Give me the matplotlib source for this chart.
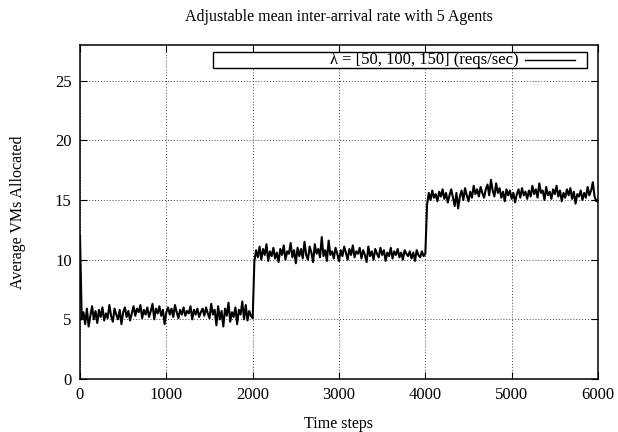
import matplotlib.pyplot as plt
import numpy as np
from matplotlib.patches import Rectangle

plt.rcParams['font.family'] = ['Liberation Serif', 'DejaVu Serif']

# values, one every 20 time steps
start = [12.0]
seg1 = [5.0, 5.6, 4.6, 5.9, 4.4, 5.3, 6.1, 5.0, 5.7, 4.7,
        5.8, 5.2, 6.0, 4.9, 5.5, 5.1, 6.2, 5.3, 4.8, 5.9,
        5.4, 5.0, 5.8, 4.6, 5.6, 6.0, 5.2, 5.7, 4.9, 5.5,
        6.1, 5.3, 5.9, 5.6, 6.2, 5.1, 5.8, 5.4, 6.0, 5.2,
        5.7, 6.3, 5.0, 5.9, 5.5, 6.1, 5.3, 5.8, 4.6, 5.6,
        6.0, 5.4, 5.9, 5.2, 6.2, 5.6, 5.1, 5.8, 5.4, 6.0,
        5.3, 5.7, 5.5, 6.1, 5.0, 5.8, 5.4, 5.9, 5.2, 5.6,
        5.9, 5.3, 6.0, 5.5, 5.1, 6.3, 5.4, 5.8, 4.5, 6.1,
        5.0, 5.7, 4.4, 5.9, 5.3, 6.4, 4.8, 5.6, 5.2, 6.0,
        4.6, 5.8, 5.4, 6.5, 5.0, 6.2, 4.9, 5.7, 5.3, 5.1]
seg2 = [9.9, 10.8, 10.2, 11.1, 10.0, 10.9, 10.4, 11.3, 9.9, 10.7,
        10.3, 11.0, 10.1, 10.6, 9.8, 10.9, 10.4, 11.2, 10.0, 10.7,
        10.5, 11.4, 10.2, 10.8, 9.7, 11.0, 10.3, 10.9, 10.1, 11.5,
        10.4, 10.0, 11.1, 10.6, 9.8, 11.3, 10.5, 10.9, 10.2, 11.9,
        10.3, 10.8, 9.9, 11.6, 10.4, 10.7, 10.1, 11.0, 10.5, 9.9,
        10.8, 10.3, 11.1, 10.6, 10.0, 10.9, 10.4, 11.2, 10.2, 10.7,
        10.5, 11.0, 10.1, 10.8, 10.4, 9.8, 11.1, 10.3, 10.7, 10.0,
        10.9, 10.5, 10.2, 11.0, 10.4, 10.8, 9.9, 10.6, 10.3, 11.0,
        10.1, 10.7, 10.4, 10.9, 10.2, 10.6, 10.0, 10.8, 10.5, 10.3,
        10.7, 10.1, 10.6, 9.9, 10.8, 10.4, 10.2, 10.7, 10.3, 10.5]
seg3 = [14.6, 15.6, 15.0, 15.8, 15.2, 15.5, 14.9, 15.7, 15.3, 15.9,
        15.1, 15.6, 14.8, 15.4, 15.9, 15.2, 14.5, 15.6, 14.3, 15.3,
        15.8, 15.0, 16.0, 15.4, 14.9, 15.7, 15.2, 16.2, 15.5, 15.9,
        15.3, 16.1, 15.6, 15.2, 15.9, 16.3, 15.4, 16.7, 15.8, 15.3,
        16.4, 15.6, 16.0, 15.2, 15.7, 14.9, 15.9, 15.4, 15.8, 15.1,
        15.6, 14.8, 15.5, 15.9, 15.2, 16.0, 15.4, 15.7, 15.1, 15.8,
        15.3, 16.2, 15.5, 15.9, 15.2, 16.4, 15.6, 15.8, 15.0, 16.1,
        15.4, 15.7, 15.1, 15.9, 15.5, 16.2, 15.3, 15.8, 14.9, 15.6,
        15.2, 15.9, 15.4, 16.0, 15.1, 15.7, 14.7, 15.5, 15.3, 15.8,
        15.0, 15.6, 15.2, 16.1, 15.4, 15.8, 16.5, 15.3, 14.9, 15.0]

vms = np.array(start + seg1 + seg2 + seg3)
steps = np.arange(len(vms)) * 20
label = 'λ = [50, 100, 150] (reqs/sec)'

fig = plt.figure(figsize=(6.18, 4.32), dpi=100)
ax = fig.add_axes([80 / 618, 1 - 379 / 432, 518 / 618, 334 / 432])

ax.plot(steps, vms, color='black', lw=1.5)

ax.set_xlim(0, 6000)
ax.set_ylim(0, 28)
ax.set_xticks(np.arange(0, 6001, 1000))
ax.set_yticks(np.arange(0, 26, 5))
ax.tick_params(direction='in', top=True, right=True, length=5, width=0.8,
               labelsize=12, pad=6)
ax.grid(True, linestyle=(0, (1, 2)), color='#444444', lw=0.7)
for s in ax.spines.values():
    s.set_linewidth(1.1)

ax.set_xlabel('Time steps', fontsize=11.5, labelpad=9)
ax.set_ylabel('Average VMs Allocated', fontsize=11.5, labelpad=21)
ax.set_title('Adjustable mean inter-arrival rate with 5 Agents', fontsize=11.5, pad=17)

# gnuplot style key box
ax.add_patch(Rectangle((0.257, 0.931), 0.722, 0.048, transform=ax.transAxes,
                       facecolor='white', edgecolor='black', lw=1.0, zorder=5))
ax.text(0.846, 0.955, label, transform=ax.transAxes, ha='right', va='center',
        fontsize=12, zorder=6)
ax.plot([0.859, 0.956], [0.955, 0.955], transform=ax.transAxes, color='black',
        lw=1.0, zorder=6)

fig.savefig('out.png', dpi=100)
